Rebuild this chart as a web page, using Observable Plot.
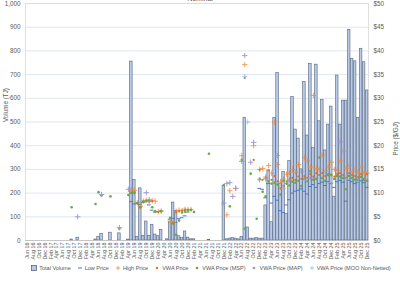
<!DOCTYPE html>
<html><head><meta charset="utf-8">
<script src="https://cdn.jsdelivr.net/npm/d3@7"></script>
<script src="https://cdn.jsdelivr.net/npm/@observablehq/plot@0.6"></script>
<style>
body{margin:0;background:#fff;width:400px;height:283px;overflow:hidden;font-family:"Liberation Sans",Arial,sans-serif;position:relative}
#title{position:absolute;top:-5px;left:0;width:400px;text-align:center;font-size:7px;color:#595959}
#legend{position:absolute;top:265px;left:30px;width:362px;display:flex;justify-content:center;gap:6px;font-size:5.6px;color:#595959;white-space:nowrap;align-items:center;letter-spacing:-0.05px}
#legend span{display:flex;align-items:center;gap:2px}
</style></head><body>
<div id="title">Nominal</div>
<div id="chart"></div>
<div id="legend"></div>
<script>
const monthNames = ["Jan","Feb","Mar","Apr","May","Jun","Jul","Aug","Sep","Oct","Nov","Dec"];
const months = [];
for (let y = 16; y <= 25; y++) for (let m = 0; m < 12; m++) {
  if (y === 16 && m < 5) continue;
  months.push(monthNames[m] + " " + y);
}
const volTicks = [0,100,200,300,400,500,600,700,800,900,1000];
const priceTicks = [0,5,10,15,20,25,30,35,40,45,50];

// Total Volume (TJ), one per month Jun 16 .. Dec 25
const volume = [
 0,0,0,0,0,0,0,0,0,0, 0,0,0,0,0,4,0,12,0,0,
 0,0,0,4,15,28,0,0,33,0, 0,30,0,0,4,755,255,15,220,20,
 80,20,65,25,18,45,0,5,80,160, 125,18,10,38,12,5,5,0,0,0,
 0,3,0,0,0,0,230,5,8,10, 8,5,15,518,55,8,8,10,8,8,
 148,295,77,517,706,240,290,113,335,605, 468,430,300,668,443,745,390,742,503,593,
 380,489,565,185,696,489,590,590,889,767, 756,518,809,752,633
];

const lowPrice = [[35,8.2],[36,7.7],[37,7.9],[38,7.6],[39,8.0],[40,8.3],[41,7.5],[42,6.4],[43,6.0],[44,6.1],[45,6.2],[48,4.5],[49,4.7],[50,3.8],[51,4.6],[52,4.8],[53,5.2],[54,6.0],
 [78,11.0],[79,10.8],[80,9.0],[81,12.0],[82,7.9],[83,9.3],[84,8.5],[85,6.3],[86,5.9],[87,7.5],[88,8.6],[89,10.0],[90,10.4],[91,10.6],[92,10.9],[93,10.4],[94,9.8],[95,11.4],[96,11.8],[97,11.2],[98,12.0],[99,12.3],[100,11.6],[101,12.4],[102,12.0],[103,11.2],[104,12.4],[105,12.7],[106,12.3],[107,8.3],[108,12.7],[109,12.4],[110,12.0],[111,12.3],[112,12.6],[113,12.2],[114,11.2]];
const highPrice = [[35,10.5],[36,10.6],[37,8.0],[38,7.2],[39,8.3],[40,8.5],[41,8.3],[42,8.4],[43,8.3],[44,6.1],[45,6.2],[48,4.0],[49,3.8],[50,6.2],[51,6.4],[52,6.3],[53,6.6],[54,6.5],[55,6.5],
 [67,5.4],[68,10.5],[70,11.0],[72,17.9],[73,37.1],[76,20.0],[78,15.0],[79,15.2],[80,13.4],[81,15.8],[82,14.2],[83,25.0],[84,16.0],[85,12.4],[86,13.0],[87,14.0],[88,14.3],[89,15.0],[90,14.4],[91,16.0],[92,14.6],[93,17.5],[94,16.8],[95,15.5],[96,30.6],[97,15.2],[98,15.0],[99,18.0],[100,14.6],[101,15.5],[102,16.5],[103,15.0],[104,14.8],[105,16.8],[106,18.8],[107,15.2],[108,15.8],[109,14.5],[110,15.0],[111,14.4],[112,15.5],[113,14.3],[114,14.2]];
const vwaPrice = [[35,10.0],[36,10.2],[37,7.8],[38,7.0],[39,8.2],[40,8.4],[41,8.2],[42,8.3],[43,6.2],[44,6.0],[45,6.1],[49,3.7],[50,6.0],[51,6.2],[52,6.3],[53,6.5],[54,6.4],
 [73,34.3],[76,17.0],[78,14.9],[79,12.8],[80,13.2],[81,14.8],[82,12.8],[83,13.6],[84,12.5],[85,11.0],[86,11.5],[87,12.5],[88,12.6],[89,13.2],[90,12.8],[91,13.5],[92,13.0],[93,13.6],[94,13.2],[95,14.0],[96,13.5],[97,14.2],[98,13.8],[99,14.2],[100,13.6],[101,14.0],[102,13.9],[103,13.5],[104,14.0],[105,14.2],[106,13.8],[107,13.2],[108,14.2],[109,13.8],[110,13.6],[111,13.4],[112,14.0],[113,13.0],[114,14.0]];
const mspPrice = [[15,7.0],[23,7.7],[24,10.2],[25,9.5],[28,9.3],[31,2.5],[34,9.6],[35,10.1],[36,10.0],[37,7.9],[38,7.0],[39,8.2],[40,8.3],[41,8.4],[42,7.0],[43,6.1],[45,6.2],[48,4.8],[49,3.6],[50,1.2],[51,4.2],[52,5.9],[53,6.1],[54,6.4],[55,6.5],[56,6.0],
 [61,18.3],[66,11.7],[68,7.2],[72,17.0],[73,2.5],[75,14.1],[77,4.6],[78,13.0],[79,10.3],[80,9.3],[81,12.5],[82,12.0],[83,12.2],[84,11.8],[85,9.7],[86,12.6],[87,12.0],[88,11.6],[89,12.4],[90,12.2],[91,12.6],[92,11.5],[93,13.0],[94,12.5],[95,14.6],[96,12.8],[97,13.0],[98,17.5],[99,13.2],[100,12.6],[101,13.8],[102,13.8],[103,13.0],[104,13.6],[105,13.5],[106,13.2],[107,10.8],[108,13.6],[109,13.2],[110,12.8],[111,12.8],[112,13.4],[113,12.8],[114,12.6]];
const mapPrice = [[17,5.0],[25,9.7],[31,2.7],[34,10.8],[35,10.8],[40,10.1],[41,8.6],
 [66,7.9],[67,12.0],[68,12.2],[69,9.3],[70,11.0],[72,16.7],[73,39.0],[75,16.5],[76,20.7],[78,12.8],[80,13.0],[84,17.9],[88,12.8],[95,13.2],[105,20.8]];
const mooPrice = [[73,34.6],[74,25.0],[86,11.0],[93,12.6],[102,12.2],[107,12.8],[111,12.5]];

const k = volTicks[volTicks.length-1] / priceTicks[priceTicks.length-1];
const volData = volume.map((v,i) => ({month: months[i], v}));
const toRows = arr => arr.map(([i,p]) => ({month: months[i], p}));
const yP = d => d.p * k;

const chart = Plot.plot({
  width: 400, height: 262,
  marginLeft: 25, marginRight: 32, marginTop: 3, marginBottom: 22,
  style: {fontFamily: "Liberation Sans, Arial, sans-serif", fontSize: "6.3px", color: "#595959", background: "transparent", overflow: "visible"},
  x: {type: "band", domain: months, paddingInner: 0.15, paddingOuter: 0.05},
  y: {domain: [0, 1000]},
  marks: [
    Plot.gridY(volTicks, {stroke: "#d5e0ef", strokeOpacity: 1, strokeWidth: 0.8}),
    Plot.frame({stroke: "#d9d9d9", strokeWidth: 0.8}),
    Plot.barY(volData, {x: "month", y: "v", fill: "#b8cae8", stroke: "#56647a", strokeWidth: 0.6}),
    Plot.ruleY([0], {stroke: "#bfbfbf", strokeWidth: 0.8}),
    Plot.tickY(toRows(lowPrice), {x: "month", y: yP, stroke: "#4a7ac4", strokeWidth: 1, insetLeft: -0.6, insetRight: -0.6}),
    Plot.dot(toRows(highPrice), {x: "month", y: yP, symbol: "plus", r: 1.9, stroke: "#f08a3c", strokeWidth: 0.8}),
    Plot.dot(toRows(vwaPrice), {x: "month", y: yP, r: 1.1, fill: "#e0701f", stroke: "none"}),
    Plot.dot(toRows(mspPrice), {x: "month", y: yP, r: 1.3, fill: "#6aa843", stroke: "none"}),
    Plot.dot(toRows(mapPrice), {x: "month", y: yP, symbol: "plus", r: 1.9, stroke: "#9c95d3", strokeWidth: 0.9}),
    Plot.dot(toRows(mooPrice), {x: "month", y: yP, symbol: "plus", r: 1.8, stroke: "#8fb4de", strokeWidth: 0.7}),
    Plot.axisY({ticks: volTicks, tickSize: 0, tickPadding: 5, label: null}),
    Plot.axisY({anchor: "right", ticks: priceTicks.map(p => p * k), tickFormat: d => "$" + (d / k), tickSize: 0, tickPadding: 5, label: null}),
    Plot.axisX({ticks: months.filter((d, i) => i % 2 === 0), tickRotate: -90, tickSize: 0, tickPadding: 2, label: null, fontSize: 5.4}),
    Plot.text(["Volume (TJ)"], {frameAnchor: "left", dx: -20, rotate: -90, fontSize: 6.3, fill: "#595959"}),
    Plot.text(["Price ($/GJ)"], {frameAnchor: "right", dx: 27, rotate: -90, fontSize: 6.3, fill: "#595959"})
  ]
});
document.getElementById("chart").appendChild(chart);

const legendItems = [
  ["Total Volume", '<svg width="6" height="6"><rect x="0.5" y="0.5" width="5" height="5" fill="#b8cae8" stroke="#56647a" stroke-width="0.8"/></svg>'],
  ["Low Price", '<svg width="6" height="6"><line x1="1" y1="3" x2="5" y2="3" stroke="#4a7ac4" stroke-width="1"/></svg>'],
  ["High Price", '<svg width="6" height="6"><path d="M1,3H5M3,1V5" stroke="#f08a3c" stroke-width="0.8"/></svg>'],
  ["VWA Price", '<svg width="6" height="6"><circle cx="3" cy="3" r="1.2" fill="#e0701f"/></svg>'],
  ["VWA Price (MSP)", '<svg width="6" height="6"><circle cx="3" cy="3" r="1.3" fill="#6aa843"/></svg>'],
  ["VWA Price (MAP)", '<svg width="6" height="6"><circle cx="3" cy="3" r="1.3" fill="#9c95d3"/></svg>'],
  ["VWA Price (MOO Non-Netted)", '<svg width="6" height="6"><path d="M1,3H5M3,1V5" stroke="#8fb4de" stroke-width="0.7"/></svg>']
];
document.getElementById("legend").innerHTML = legendItems.map(([t, s]) => `<span>${s}${t}</span>`).join("");
</script>
</body></html>
